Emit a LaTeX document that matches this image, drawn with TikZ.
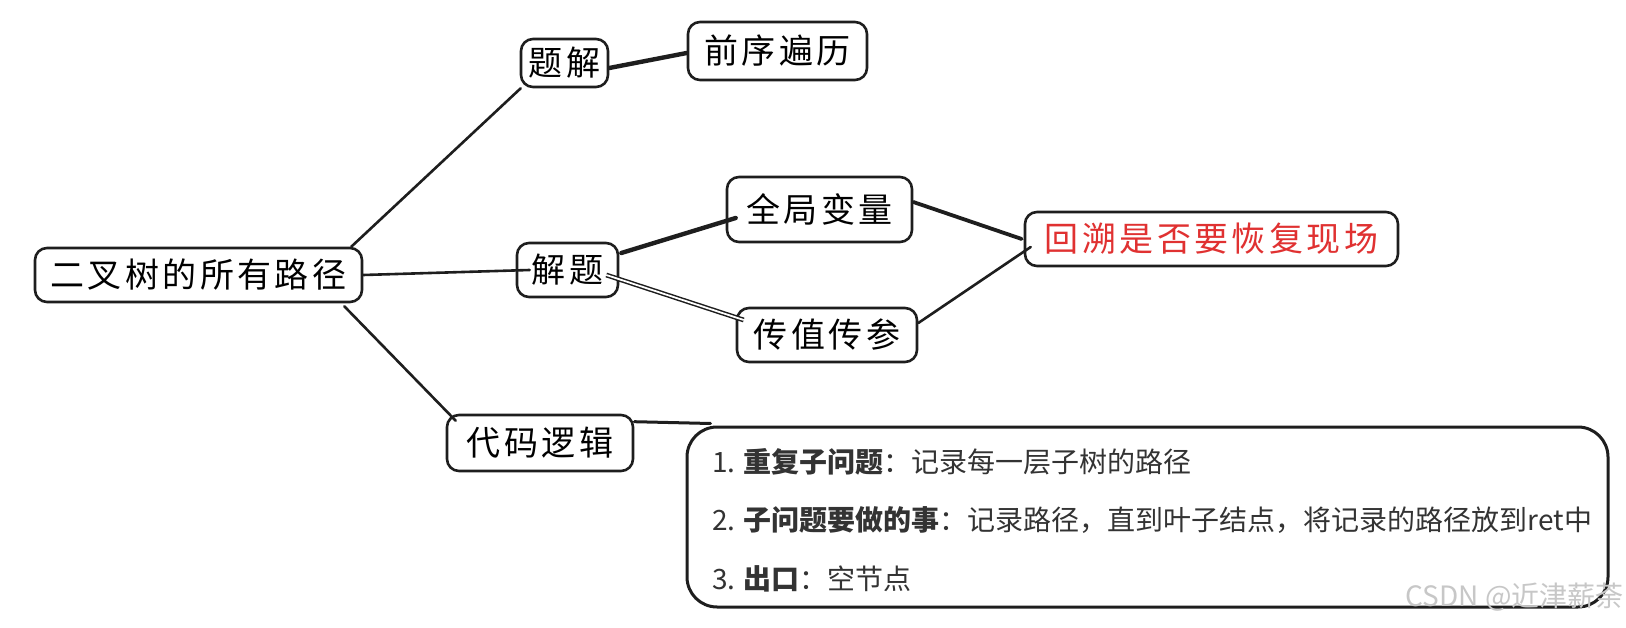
\documentclass[tikz,border=0pt]{standalone}
\usepackage{fontspec}
\newfontfamily\hand[LetterSpace=10]{Noto Sans CJK SC}
\newfontfamily\cjk{Noto Sans CJK SC}
\definecolor{ink}{HTML}{1E1E1E}
\definecolor{redink}{HTML}{E03131}
\definecolor{txt}{HTML}{333333}
\begin{document}
\begin{tikzpicture}[x=1pt,y=-1pt,
  sketchbox/.style={draw=ink, line width=2.6pt, rounded corners=12pt, fill=white,
    inner sep=0pt, align=center, font=\hand\fontsize{34}{40}\selectfont},
  link/.style={draw=ink, line width=2.6pt, line cap=round},
  heavylink/.style={link, line width=4.4pt},
  doublelink/.style={draw=ink, line width=1.5pt, double=white, double distance=1.8pt},
  bigbox/.style={draw=ink, line width=3pt, rounded corners=30pt, fill=white, inner sep=0pt},
  itemtext/.style={anchor=west, inner sep=0pt, text=txt, font=\cjk\fontsize{28}{32}\selectfont}
]
\useasboundingbox (0,0) rectangle (1626,628);

% nodes
\node[sketchbox, minimum width=327pt, minimum height=54pt] (root) at (198.5,275) {二叉树的所有路径};
\node[sketchbox, minimum width=87pt, minimum height=48pt] (tj) at (564.5,63) {题解};
\node[sketchbox, minimum width=179pt, minimum height=58pt] (qx) at (777.5,51) {前序遍历};
\node[sketchbox, minimum width=101pt, minimum height=54pt] (jt) at (567.5,270) {解题};
\node[sketchbox, minimum width=185pt, minimum height=65pt] (qj) at (819.5,209.5) {全局变量};
\node[sketchbox, minimum width=180pt, minimum height=54pt] (cz) at (827,335) {传值传参};
\node[sketchbox, minimum width=373pt, minimum height=54pt, text=redink] (hs) at (1211.5,239) {回溯是否要恢复现场};
\node[sketchbox, minimum width=186pt, minimum height=56pt] (dm) at (540,443) {代码逻辑};
\node[bigbox, minimum width=921pt, minimum height=180pt] (big) at (1147.5,517) {};

\node[itemtext] (l1) at (712,462) {1. \textbf{重复子问题}：记录每一层子树的路径};
\node[itemtext] (l2) at (712,520) {2. \textbf{子问题要做的事}：记录路径，直到叶子结点，将记录的路径放到ret中};
\node[itemtext] (l3) at (712,579) {3. \textbf{出口}：空节点};

\node[anchor=east, inner sep=0pt, text=black!22, font=\cjk\fontsize{28}{32}\selectfont] (wm) at (1624,597) {CSDN @近津薪荼};

% connectors
\draw[link] ([xshift=-12pt]root.north east) -- ([xshift=1pt]tj.south west);
\draw[link] (root.east) -- ([xshift=14pt]jt.west);
\draw[link] ([xshift=-19pt,yshift=-3pt]root.south east) -- ([xshift=10pt,yshift=-7pt]dm.north west);
\draw[heavylink] ([yshift=-5pt]tj.east) -- ([yshift=-2pt]qx.west);
\draw[heavylink] ([xshift=2pt,yshift=17pt]jt.east) -- ([xshift=10pt,yshift=-8.5pt]qj.west);
\draw[doublelink] ([xshift=-13pt,yshift=-5pt]jt.east) -- ([xshift=8pt,yshift=15pt]cz.west);
\draw[heavylink, line width=3.8pt] ([yshift=7.5pt]qj.east) -- ([xshift=-2pt]hs.west);
\draw[link] ([yshift=12pt]cz.east) -- ([xshift=7pt,yshift=-8pt]hs.west);
\draw[link, line width=3pt] ([yshift=-8pt]dm.north east) -- ([xshift=25pt,yshift=2pt]big.north west);
\end{tikzpicture}
\end{document}
